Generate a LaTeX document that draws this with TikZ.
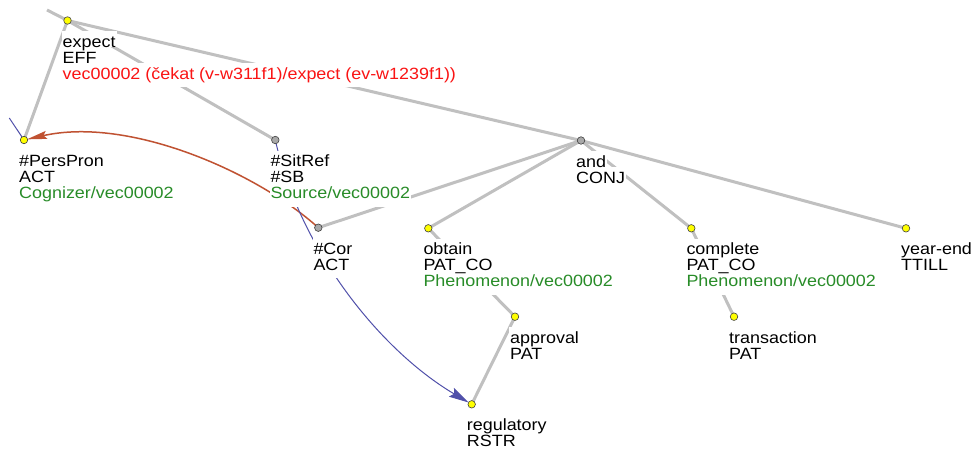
\documentclass[tikz,border=0pt]{standalone}
\usepackage{fontspec}
\newfontfamily\labfont[FakeStretch=1.1]{Liberation Sans}
\usetikzlibrary{arrows.meta,calc}
\pgfdeclarelayer{paper}
\pgfdeclarelayer{edges}
\pgfdeclarelayer{arrs}
\pgfdeclarelayer{labs}
\pgfsetlayers{paper,edges,arrs,labs,main}
\definecolor{edgegray}{RGB}{192,192,192}
\definecolor{nodegray}{RGB}{168,168,168}
\definecolor{nodeyellow}{RGB}{255,255,0}
\definecolor{labred}{RGB}{250,20,20}
\definecolor{labgreen}{RGB}{40,140,40}
\definecolor{corefred}{RGB}{192,82,50}
\definecolor{corefblue}{RGB}{80,80,170}
\newcommand\labrow[5]{\node[#1] (#2#3) at ($(#2)+(-6,#4)$) {#5};}
\begin{document}
\begin{tikzpicture}[x=1pt,y=-1pt,
  ynode/.style={circle,fill=nodeyellow,draw=black!75,line width=0.6pt,minimum size=7.5pt,inner sep=0pt},
  gnode/.style={ynode,fill=nodegray},
  edge/.style={draw=edgegray,line width=3pt},
  rowbox/.style={fill=white,inner xsep=1pt,inner ysep=0pt,text height=16pt,text depth=0pt,anchor=base west,
    font=\labfont\fontsize{16.3}{16}\selectfont},
  lastrow/.style={rowbox,text depth=8pt},
  redarr/.style={draw=corefred,line width=1.5pt,-{Stealth[length=20pt,width=8pt,inset=3pt]},shorten >=3pt},
  bluearr/.style={draw=corefblue,line width=1pt,-{Stealth[length=20pt,width=10pt,inset=3pt]},shorten >=3.5pt},
  blueline/.style={draw=corefblue,line width=1pt}]
\useasboundingbox (0,0) rectangle (971,450);
\begin{pgfonlayer}{paper}
\fill[white] (0,0) rectangle (971,450);
\end{pgfonlayer}
% tree nodes
\coordinate (top) at (47,10);
\coordinate (bl) at (9.3,118);
\node[ynode] (expect) at (67.5,20.5) {};
\node[ynode] (PersPron) at (24,140) {};
\node[gnode] (SitRef) at (275.3,140) {};
\node[gnode] (and) at (581,140.5) {};
\node[gnode] (Cor) at (318.3,227.7) {};
\node[ynode] (obtain) at (428.3,228.3) {};
\node[ynode] (complete) at (691.3,228.3) {};
\node[ynode] (yearend) at (906,228.3) {};
\node[ynode] (approval) at (515,316.7) {};
\node[ynode] (transaction) at (734,316.7) {};
\node[ynode] (regulatory) at (471.7,404.3) {};
% edges
\begin{pgfonlayer}{edges}
\draw[edge] (top) -- (expect.center);
\draw[edge] (expect.center) -- (PersPron.center);
\draw[edge] (expect.center) -- (SitRef.center);
\draw[edge] (expect.center) -- (and.center);
\draw[edge] (and.center) -- (Cor.center);
\draw[edge] (and.center) -- (obtain.center);
\draw[edge] (and.center) -- (complete.center);
\draw[edge] (and.center) -- (yearend.center);
\draw[edge] (obtain.center) -- (approval.center);
\draw[edge] (complete.center) -- (transaction.center);
\draw[edge] (approval.center) -- (regulatory.center);
\end{pgfonlayer}
% coreference arrows
\begin{pgfonlayer}{arrs}
\draw[redarr] (Cor.center) .. controls (258,173) and (130,116) .. (PersPron.center);
\draw[bluearr] (SitRef.center) .. controls (300,250) and (380,350) .. (regulatory.center);
\draw[blueline] (bl) -- (PersPron.center);
\end{pgfonlayer}
% labels
\begin{pgfonlayer}{labs}
\labrow{lastrow,text=labred}{expect}{c}{58.5}{vec00002 (čekat (v-w311f1)/expect (ev-w1239f1))}
\labrow{rowbox}{expect}{b}{42.5}{EFF}
\labrow{rowbox}{expect}{a}{26.5}{expect}
\labrow{lastrow,text=labgreen}{PersPron}{c}{58.5}{Cognizer/vec00002}
\labrow{rowbox}{PersPron}{b}{42.5}{ACT}
\labrow{rowbox}{PersPron}{a}{26.5}{\#PersPron}
\labrow{lastrow,text=labgreen}{SitRef}{c}{58.5}{Source/vec00002}
\labrow{rowbox}{SitRef}{b}{42.5}{\#SB}
\labrow{rowbox}{SitRef}{a}{26.5}{\#SitRef}
\labrow{lastrow}{and}{b}{42.5}{CONJ}
\labrow{rowbox}{and}{a}{26.5}{and}
\labrow{lastrow}{Cor}{b}{42.5}{ACT}
\labrow{rowbox}{Cor}{a}{26.5}{\#Cor}
\labrow{lastrow,text=labgreen}{obtain}{c}{58.5}{Phenomenon/vec00002}
\labrow{rowbox}{obtain}{b}{42.5}{PAT\_CO}
\labrow{rowbox}{obtain}{a}{26.5}{obtain}
\labrow{lastrow,text=labgreen}{complete}{c}{58.5}{Phenomenon/vec00002}
\labrow{rowbox}{complete}{b}{42.5}{PAT\_CO}
\labrow{rowbox}{complete}{a}{26.5}{complete}
\labrow{lastrow}{yearend}{b}{42.5}{TTILL}
\labrow{rowbox}{yearend}{a}{26.5}{year-end}
\labrow{lastrow}{approval}{b}{42.5}{PAT}
\labrow{rowbox}{approval}{a}{26.5}{approval}
\labrow{lastrow}{transaction}{b}{42.5}{PAT}
\labrow{rowbox}{transaction}{a}{26.5}{transaction}
\labrow{lastrow}{regulatory}{b}{42.5}{RSTR}
\labrow{rowbox}{regulatory}{a}{26.5}{regulatory}
\end{pgfonlayer}
\end{tikzpicture}
\end{document}
